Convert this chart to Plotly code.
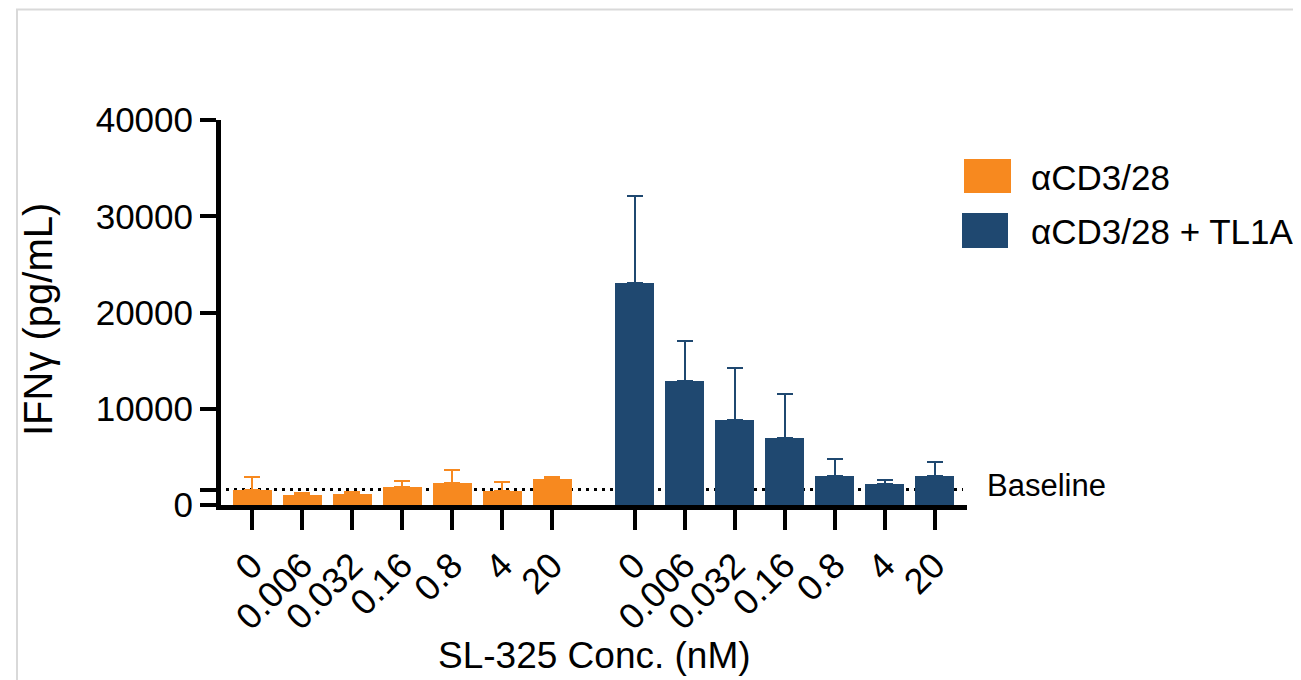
import plotly.graph_objects as go

# ---- data ----
conc_labels = ["0", "0.006", "0.032", "0.16", "0.8", "4", "20"]
series_names = ["\u03b1CD3/28", "\u03b1CD3/28 + TL1A"]
cd3_mean = [1600, 1010, 1170, 1840, 2290, 1460, 2730]
cd3_err = [1280, 270, 210, 620, 1380, 930, 210]
tl1a_mean = [23100, 12880, 8830, 6990, 3010, 2150, 3010]
tl1a_err = [9040, 4130, 5400, 4570, 1740, 480, 1460]
baseline_value = 1600
y_tickvals = [0, 10000, 20000, 30000, 40000]

# ---- style ----
ORANGE = "#F7891F"
BLUE = "#1F4870"
FONT = "Liberation Sans, Arial, sans-serif"
GROUP_GAP = 1.65
OFF = 8  # page body margin

n = len(conc_labels)
x_cd3 = [i for i in range(n)]
x_tl1a = [n - 1 + GROUP_GAP + i for i in range(n)]

fig = go.Figure()
for xs, ys, es, col, name in [
    (x_cd3, cd3_mean, cd3_err, ORANGE, series_names[0]),
    (x_tl1a, tl1a_mean, tl1a_err, BLUE, series_names[1]),
]:
    fig.add_trace(go.Bar(
        x=xs, y=ys, name=name, width=0.78,
        marker=dict(color=col, line=dict(width=0)),
        error_y=dict(type="data", array=es, arrayminus=[0] * len(es),
                     symmetric=False, color=col, thickness=2, width=8),
        showlegend=False,
    ))

W, H = 1301, 680
pw, ph = 746, 385
L, T = 221 - OFF, 120 - OFF
R, B = W - L - pw, H - T - ph

def px(xpix):
    return (xpix - OFF - L) / pw

def py(ypix):
    return (T + ph - (ypix - OFF)) / ph

shapes = [
    dict(type="line", xref="x", yref="y", x0=x_cd3[0] - 0.52, x1=x_tl1a[-1] + 0.57,
         y0=baseline_value, y1=baseline_value, layer="below",
         line=dict(color="black", width=3, dash="3px,5px")),
    dict(type="rect", xref="paper", yref="paper", x0=px(17), x1=px(1330),
         y0=py(720), y1=py(9.5), line=dict(color="#d9d9d9", width=2), layer="below"),
    dict(type="rect", xref="paper", yref="paper", x0=px(964), x1=px(1011),
         y0=py(193), y1=py(159), fillcolor=ORANGE, line=dict(width=0)),
    dict(type="rect", xref="paper", yref="paper", x0=px(962), x1=px(1008),
         y0=py(248), y1=py(213), fillcolor=BLUE, line=dict(width=0)),
]

annotations = [
    dict(xref="paper", yref="paper", x=px(1029), y=py(177), text=series_names[0],
         showarrow=False, xanchor="left", yanchor="middle",
         font=dict(family=FONT, size=35, color="black")),
    dict(xref="paper", yref="paper", x=px(1029), y=py(231), text=series_names[1],
         showarrow=False, xanchor="left", yanchor="middle",
         font=dict(family=FONT, size=35, color="black")),
    dict(xref="paper", yref="y", x=px(985), y=baseline_value, text="Baseline",
         showarrow=False, xanchor="left", yanchor="middle", yshift=4,
         font=dict(family=FONT, size=31, color="black")),
    dict(xref="paper", yref="paper", x=px(38), y=py(320), text="IFN\u03b3 (pg/mL)",
         showarrow=False, xanchor="center", yanchor="middle", textangle=-90,
         font=dict(family=FONT, size=40, color="black")),
    dict(xref="paper", yref="paper", x=px(594), y=py(655), text="SL-325 Conc. (nM)",
         showarrow=False, xanchor="center", yanchor="middle",
         font=dict(family=FONT, size=37, color="black")),
]

fig.update_layout(
    width=W, height=H,
    margin=dict(l=L, r=R, t=T, b=B, pad=0),
    paper_bgcolor="white", plot_bgcolor="white",
    showlegend=False,
    bargap=0,
    shapes=shapes,
    annotations=annotations,
    font=dict(family=FONT, color="black"),
)

fig.update_xaxes(
    range=[(221 - 252) / 50, (221 + pw - 252) / 50],
    tickmode="array", tickvals=x_cd3 + x_tl1a, ticktext=conc_labels + conc_labels,
    tickangle=-45, ticks="outside", ticklen=20, tickwidth=4, tickcolor="black",
    showline=True, linewidth=5, linecolor="black",
    showgrid=False, zeroline=False,
    tickfont=dict(family=FONT, size=36, color="black"),
)

fig.update_yaxes(
    range=[0, 40000],
    tickmode="array", tickvals=[0, baseline_value] + y_tickvals[1:],
    ticktext=["0", ""] + [str(v) for v in y_tickvals[1:]],
    ticks="outside", ticklen=16, tickwidth=4, tickcolor="black",
    showline=True, linewidth=5, linecolor="black",
    showgrid=False, zeroline=False,
    tickfont=dict(family=FONT, size=35, color="black"),
)

fig.write_html("out.html")
